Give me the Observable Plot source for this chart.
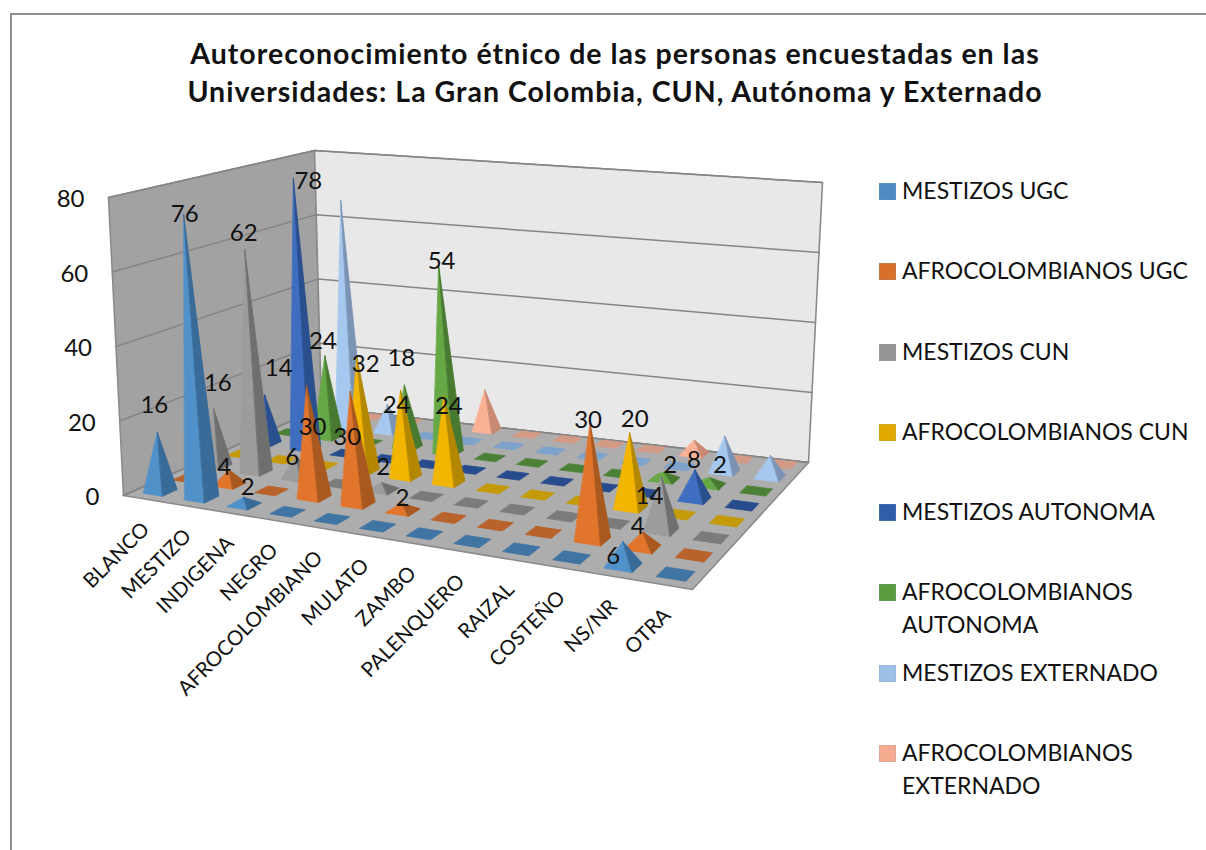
<!DOCTYPE html>
<html lang="es">
<head>
<meta charset="utf-8">
<script src="https://cdn.jsdelivr.net/npm/d3@7"></script>
<script src="https://cdn.jsdelivr.net/npm/@observablehq/plot@0.6"></script>
<style>
  html,body{margin:0;padding:0;background:#fff;}
  #page{position:relative;box-sizing:border-box;width:1206px;height:850px;overflow:hidden;font-family:Lato,sans-serif;color:#111;}
  #frame{position:absolute;left:10px;top:13px;right:-5px;bottom:-5px;border-left:2px solid #8f8f8f;border-top:2px solid #8f8f8f;pointer-events:none;}
  #title{position:absolute;left:11px;top:34px;width:1208px;height:90px;text-align:center;font-weight:700;font-size:28.5px;letter-spacing:1px;line-height:38px;}
  #row{position:absolute;left:0;top:125px;display:flex;width:1206px;height:725px;}
  #chart{width:850px;height:725px;flex:none;}
  #legend{position:absolute;left:879px;top:49px;width:322px;font-size:23px;line-height:32.5px;}
  .item{display:flex;height:80.3px;}
  .sw{width:15px;height:15px;flex:none;margin:9px 6px 0 0;border:1px solid #7f9fbf33;}
</style>
</head>
<body>
<div id="page">
  <div id="frame"></div>
  <div id="title">Autoreconocimiento étnico de las personas encuestadas en las<br>Universidades: La Gran Colombia, CUN, Autónoma y Externado</div>
  <div id="row"><div id="chart"></div><div id="legend"></div></div>
</div>
<script>
const categories = ["BLANCO","MESTIZO","INDIGENA","NEGRO","AFROCOLOMBIANO","MULATO","ZAMBO","PALENQUERO","RAIZAL","COSTEÑO","NS/NR","OTRA"];
const seriesNames = ["MESTIZOS UGC","AFROCOLOMBIANOS UGC","MESTIZOS CUN","AFROCOLOMBIANOS CUN","MESTIZOS AUTONOMA","AFROCOLOMBIANOS AUTONOMA","MESTIZOS EXTERNADO","AFROCOLOMBIANOS EXTERNADO"];
const mestizosUGC      = [16,76, 2, 0, 0, 0, 0, 0, 0, 0, 6, 0];
const afroUGC          = [ 0, 4, 0,30,30, 2, 0, 0, 0,30, 4, 0];
const mestizosCUN      = [16,62, 6, 0, 2, 0, 0, 0, 0, 0,14, 0];
const afroCUN          = [ 0, 0, 0,32,24,24, 0, 0, 0,20, 0, 0];
const mestizosAutonoma = [14,78, 0, 0, 0, 0, 0, 0, 0, 0, 8, 0];
const afroAutonoma     = [ 0,24, 0,18,54, 0, 0, 0, 0, 2, 2, 0];
const mestizosExternado= [ 0,68, 8, 0, 0, 0, 0, 0, 0, 0,10, 6];
const afroExternado    = [ 0, 0, 0, 0,12, 0, 0, 0, 0, 4, 0, 0];
const seriesValues = [mestizosUGC,afroUGC,mestizosCUN,afroCUN,mestizosAutonoma,afroAutonoma,mestizosExternado,afroExternado];
const labelledSeries = [0,1,2,3,4,5];
const valueTicks = [0,20,40,60,80];

// styles: [legend, light face, dark face, flat zero marker]
const palette = [
  ["#4f8bc2","#5191c9","#386b98","#3f74a3"],
  ["#d8702b","#e2752c","#a9591f","#b9622b"],
  ["#959595","#9c9c9c","#6f6f6f","#7b7b7b"],
  ["#e3a900","#f2b500","#b38700","#c49a08"],
  ["#2f5fa8","#3f6dc0","#2a4f8e","#274c8e"],
  ["#5b9a3d","#66a845","#477a30","#4b8136"],
  ["#9dc0e6","#a6c8ee","#7b93b4","#7da2cc"],
  ["#f4ab8f","#fbb195","#c98a74","#d39b85"]
];
// label placement relative to the apex, in pixels: "series-category": [dx, dy]
const labelNudge = {
  "0-0":[-3,-27],"0-1":[1,0],"0-2":[4,-10],"0-10":[-10,15],
  "1-1":[-5,-3],"1-3":[6,41],"1-4":[-3,46],"1-5":[0,-5],"1-9":[-2,-3],"1-10":[-5,-5],
  "2-0":[4,-26],"2-1":[-1,-16],"2-2":[-4,1],"2-4":[1,-15],"2-10":[-12,20],
  "3-3":[9,8],"3-4":[-4,15],"3-5":[5,11],"3-9":[5,-14],
  "4-0":[14,-27],"4-1":[15,2],"4-10":[-1,-9],
  "5-1":[-2,-15],"5-3":[-3,-27],"5-4":[3,-4],"5-9":[6,-7],"5-10":[10,-12]
};

// Camera: the floor (w = 0) and the ceiling (w = 1) are each a perspective map of the unit square; heights lerp between them
const quad = ([[x0,y0],[x1,y1],[x2,y2],[x3,y3]]) => {
  const dx1=x1-x2,dx2=x3-x2,sx=x0-x1+x2-x3,dy1=y1-y2,dy2=y3-y2,sy=y0-y1+y2-y3;
  const den=dx1*dy2-dx2*dy1,g=(sx*dy2-dx2*sy)/den,h=(dx1*sy-sx*dy1)/den;
  const a=x1-x0+g*x1,b=x3-x0+h*x3,d=y1-y0+g*y1,e=y3-y0+h*y3;
  return (u,v)=>{const D=g*u+h*v+1;return [(a*u+b*v+x0)/D,(d*u+e*v+y0)/D];};
};
const floorMap = quad([[123,495],[692,589],[808,462],[321,407]]);
const ceilMap  = quad([[108,197],[706,264],[822,182],[314,150]]);
const camera = (u,v,w) => {
  const [fx,fy]=floorMap(u,v),[cx,cy]=ceilMap(u,v);
  return [fx+(cx-fx)*w,fy+(cy-fy)*w];
};
const maxValue = 80, nC = categories.length, nS = seriesNames.length;
const cellU = c => {const a=(c+.5)/nC;return a+0.09*a*(1-a);};
const cellV = s => 0.07+0.127*s;
const halfU = 0.5/2/nC, halfV = 0.5*0.127/2;
const poly = (id, fill, pts) => pts.map(([u,v,w])=>{const [x,y]=camera(u,v,w);return {id,fill,x,y};});

const wallRows = [
  ...poly("left","#a2a2a2",[[0,0,0],[0,1,0],[0,1,1],[0,0,1]]),
  ...poly("back","#e8e8e8",[[0,1,0],[1,1,0],[1,1,1],[0,1,1]]),
  ...poly("floor","#adadad",[[0,0,0],[1,0,0],[1,1,0],[0,1,0]])
];
const gridRows = valueTicks.flatMap(t=>poly("g"+t,"none",[[0,0,t/maxValue],[0,1,t/maxValue],[1,1,t/maxValue]]));

const faces = [], labels = [];
d3.range(nS-1,-1,-1).forEach(s=>{
  d3.range(nC).forEach(c=>{
    const val = seriesValues[s][c], uc=cellU(c), vc=cellV(s);
    const base=[[uc-halfU,vc-halfV,0],[uc+halfU,vc-halfV,0],[uc+halfU,vc+halfV,0],[uc-halfU,vc+halfV,0]];
    const top=[uc,vc,val/maxValue];
    if(val===0){ faces.push(...poly(`${s}-${c}-b`,palette[s][3],base)); return; }
    [3,2,0,1].forEach(i=>{
      const tri=[base[i],base[(i+1)%4],top];
      const [A,B,C]=tri.map(t=>camera(...t));
      const cross=(B[0]-A[0])*(C[1]-A[1])-(B[1]-A[1])*(C[0]-A[0]);
      if(cross<0) faces.push(...poly(`${s}-${c}-${i}`,palette[s][i===1?2:1],tri));
    });
    if(labelledSeries.includes(s)){
      const [x,y]=camera(...top),[nx,ny]=labelNudge[`${s}-${c}`]||[0,-10];
      labels.push({x:x+nx,y:y+ny,text:String(val)});
    }
  });
});
const tickLabels = valueTicks.map(t=>{const [x,y]=camera(0,0,t/maxValue);return {x:x-24,y:y+2,text:String(t)};});
const catLabels = categories.map((text,c)=>{const [x,y]=camera(cellU(c),0,0);return {x:x+2,y:y+27,text};});

const plot = Plot.plot({
  width:850,height:725,margin:0,
  x:{domain:[0,850],range:[0,850],axis:null},
  y:{domain:[125,850],range:[0,725],axis:null},
  color:{type:"identity"},
  style:{background:"transparent",fontFamily:"Lato, sans-serif",color:"#111"},
  marks:[
    Plot.line(wallRows,{x:"x",y:"y",z:"id",fill:"fill",stroke:"#8b8b8b",strokeWidth:1.6,curve:"linear-closed"}),
    Plot.line(gridRows,{x:"x",y:"y",z:"id",stroke:"#858585",strokeWidth:1.5}),
    Plot.line(faces,{x:"x",y:"y",z:"id",fill:"fill",stroke:"fill",strokeWidth:0.8,curve:"linear-closed"}),
    Plot.text(tickLabels,{x:"x",y:"y",text:"text",fontSize:24,textAnchor:"end",fill:"#111"}),
    Plot.text(catLabels,{x:"x",y:"y",text:"text",fontSize:20.5,textAnchor:"end",rotate:-45,fill:"#111"}),
    Plot.text(labels,{x:"x",y:"y",text:"text",fontSize:24,fill:"#111"})
  ]
});
document.getElementById("chart").append(plot);

const legend = document.getElementById("legend");
seriesNames.forEach((n,i)=>{
  const item=document.createElement("div");item.className="item";
  const sw=document.createElement("div");sw.className="sw";sw.style.background=palette[i][0];
  const tx=document.createElement("div");tx.textContent=n;
  item.append(sw,tx);legend.append(item);
});
</script>
</body>
</html>
